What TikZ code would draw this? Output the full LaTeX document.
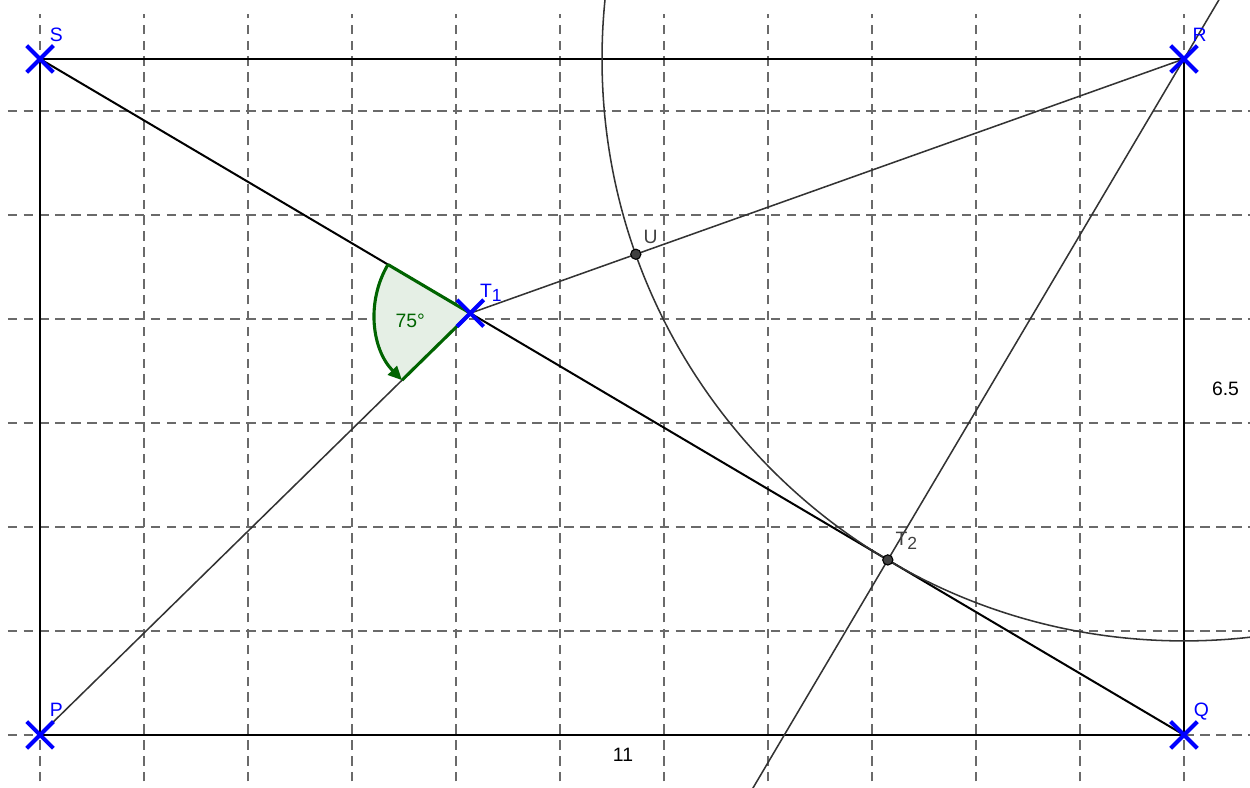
\documentclass[tikz,border=0pt]{standalone}
\usepackage{fontspec}
\setmainfont{Liberation Sans}
\usetikzlibrary{arrows.meta,calc,positioning,shapes.misc}
\definecolor{GeoBlue}{HTML}{0000FF}
\definecolor{GeoGreen}{HTML}{006400}
\definecolor{GeoGrey}{HTML}{404040}
\definecolor{GridGrey}{HTML}{6A6A6A}

\newcommand{\geosub}[1]{\raisebox{-1.1pt}{\fontsize{4.8}{5}\selectfont #1}}

\tikzset{
  gridline/.style={GridGrey,line width=0.42pt,dash pattern=on 2.6pt off 1.75pt},
  side/.style={black,line width=0.55pt},
  thin line/.style={black!80,line width=0.42pt},
  ptcross/.style={cross out,draw=GeoBlue,line width=1.1pt,minimum size=6.2pt,inner sep=0pt},
  ptdot/.style={circle,fill=GeoGrey,draw=black,line width=0.3pt,minimum size=2.8pt,inner sep=0pt},
  ptlabel/.style={anchor=base west,inner sep=0pt,font=\fontsize{5.3}{6}\selectfont},
  anglemark/.style={GeoGreen,line width=0.85pt}
}

\begin{document}
\begin{tikzpicture}[font=\fontsize{5.3}{6}\selectfont]
  \useasboundingbox (-0.385,-0.51) rectangle (11.635,7.067);
  \clip (-0.385,-0.51) rectangle (11.635,7.067);

  % grid
  \foreach \x in {0,...,11}
    \draw[gridline] (\x,-0.6) -- (\x,6.93);
  \foreach \y in {0,...,6}
    \draw[gridline] (-0.31,\y) -- (11.7,\y);

  % points
  \coordinate (P) at (0,0);
  \coordinate (Q) at (11,0);
  \coordinate (R) at (11,6.5);
  \coordinate (S) at (0,6.5);
  \coordinate (T1) at (4.1377,4.0550);
  \coordinate (T2) at ($(S)!(R)!(Q)$);
  \coordinate (U) at ($(R)!5.596cm!(T1)$);
  \coordinate (Rtop) at ($(R)!-0.3!(T2)$);
  \coordinate (Rbot) at ($(R)!1.5!(T2)$);

  % rectangle and lines
  \draw[side] (P) -- (Q) -- (R) -- (S) -- cycle;
  \draw[side] (S) -- (Q);
  \draw[thin line] (P) -- (T1) -- (R);
  \draw[thin line] (Rtop) -- (Rbot);
  \draw[thin line] (R) circle[radius=5.596];

  % angle
  \coordinate (A1) at ($(T1)+(149.42:0.92)$);
  \coordinate (A2) at ($(T1)+(224.42:0.92)$);
  \fill[GeoGreen!10] (T1) -- (A1) arc[start angle=149.42,end angle=224.42,radius=0.92] -- cycle;
  \draw[anglemark] (A1) -- (T1) -- (A2);
  \draw[anglemark,-{Triangle[length=3.8pt,width=3.4pt]}] (A1) arc[start angle=149.42,end angle=224.42,radius=0.92];
  \node[GeoGreen] (ang) at (3.56,3.98) {75°};

  % marks
  \foreach \p in {P,Q,R,S,T1}
    \node[ptcross] (x\p) at (\p) {};
  \node[ptdot] (dU) at (U) {};
  \node[ptdot] (dT2) at (T2) {};

  % labels
  \node[ptlabel,GeoBlue] (lS) at ($(S)+(0.087,0.163)$) {S};
  \node[ptlabel,GeoBlue] (lR) at ($(R)+(0.077,0.163)$) {R};
  \node[ptlabel,GeoBlue] (lP) at ($(P)+(0.087,0.173)$) {P};
  \node[ptlabel,GeoBlue] (lQ) at ($(Q)+(0.087,0.18)$) {Q};
  \node[ptlabel,GeoBlue] (lT1) at ($(T1)+(0.087,0.154)$) {T\geosub{1}};
  \node[ptlabel,GeoGrey] (lU) at ($(U)+(0.067,0.106)$) {U};
  \node[ptlabel,GeoGrey] (lT2) at ($(T2)+(0.067,0.135)$) {T\geosub{2}};
  \node (len11) at (5.606,-0.188) {11};
  \node (len65) at (11.399,3.332) {6.5};
\end{tikzpicture}
\end{document}
